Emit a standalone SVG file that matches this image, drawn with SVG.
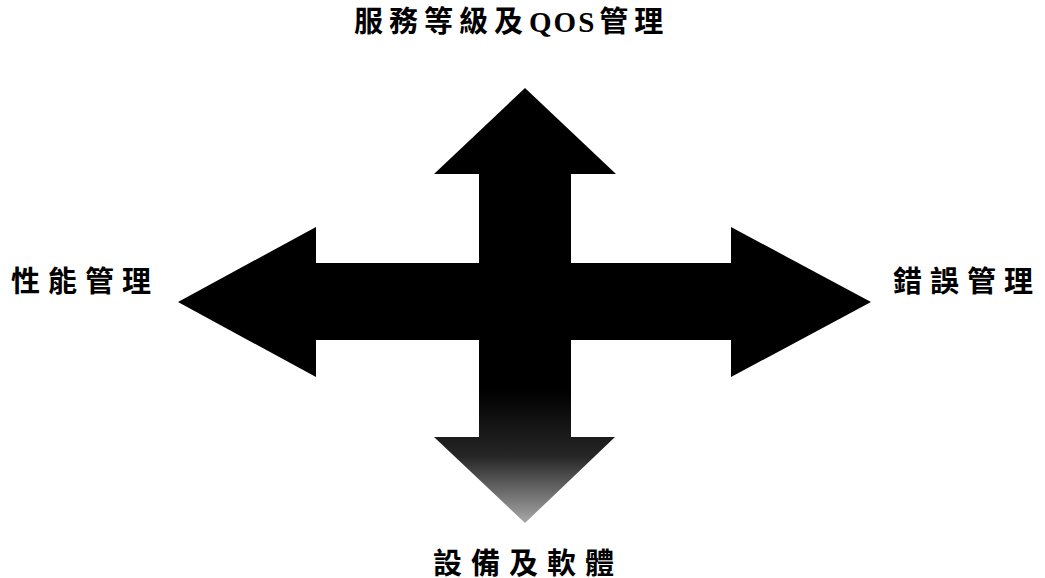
<svg xmlns="http://www.w3.org/2000/svg" width="1045" height="578" viewBox="0 0 1045 578">
<style>
.lbl{font-family:"Liberation Serif","Noto Sans CJK TC",serif;font-weight:bold;font-size:29px;fill:#000}
.arr{fill:#000}
</style>
<defs>
<linearGradient id="fade" gradientUnits="userSpaceOnUse" x1="0" y1="390" x2="0" y2="523">
<stop offset="0" stop-color="#000"/>
<stop offset="0.5" stop-color="#262626"/>
<stop offset="1" stop-color="#a8a8a8"/>
</linearGradient>
</defs>
<rect width="1045" height="578" fill="#fff"/>
<g id="connectors">
<path id="arrow-up" class="arr" d="M525,88 L616,174 L571,174 L571,341 L479,341 L479,174 L434,174 Z"/>
<path id="arrow-left" class="arr" d="M178,302 L316,227 L316,263 L480,263 L480,340 L316,340 L316,377 Z"/>
<path id="arrow-right" class="arr" d="M871,302 L731,227 L731,263 L570,263 L570,340 L731,340 L731,377 Z"/>
<path id="arrow-down" fill="url(#fade)" d="M479,339 L571,339 L571,437 L615,437 L525,523 L434,437 L479,437 Z"/>
</g>
<g id="node-top"><text class="lbl" x="354" y="32" style="letter-spacing:6px">服務等級及<tspan style="letter-spacing:2px">QOS</tspan><tspan dx="3">管理</tspan></text></g>
<g id="node-left"><text class="lbl" x="11" y="292" style="letter-spacing:8px">性能管理</text></g>
<g id="node-right"><text class="lbl" x="893" y="292" style="letter-spacing:8px">錯誤管理</text></g>
<g id="node-bottom"><text class="lbl" x="433" y="574" style="letter-spacing:9px">設備及軟體</text></g>
</svg>
